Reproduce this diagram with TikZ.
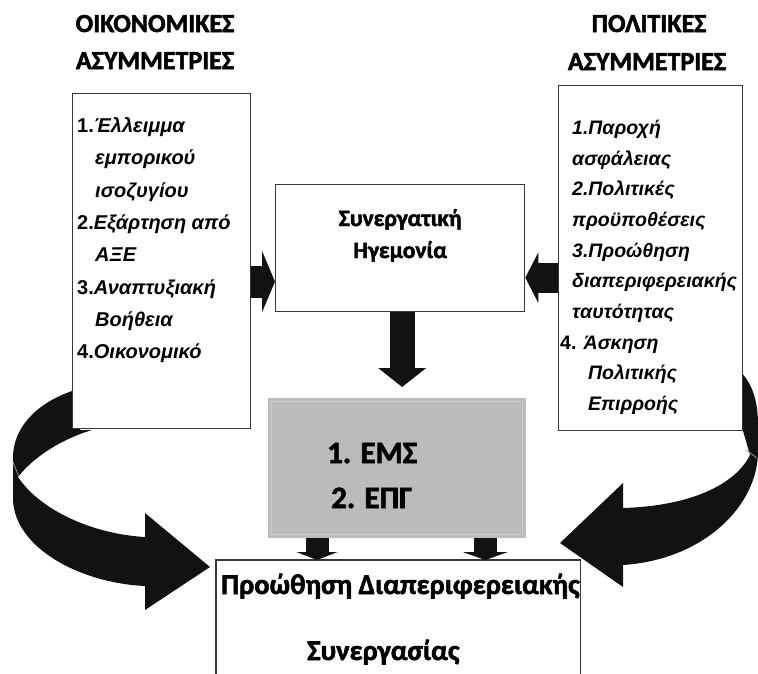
\documentclass[tikz,border=0pt]{standalone}
\usepackage{fontspec}
\setmainfont{Liberation Sans}
\newfontfamily\carlito{Carlito}[BoldFont={Carlito Bold}, BoldFeatures={FakeBold=2}]
\usepackage{tikz}
\usetikzlibrary{arrows.meta,positioning}
\definecolor{boxgray}{RGB}{187,187,187}
\definecolor{edgegray}{RGB}{55,55,55}
\definecolor{curlblack}{RGB}{18,18,18}

\begin{document}
\begin{tikzpicture}[x=1pt,y=-1pt,
    box/.style={draw=edgegray, line width=1.3pt, fill=white, inner sep=0pt, anchor=north west},
    head/.style={font=\carlito\bfseries\fontsize{26}{30}\selectfont, anchor=base, inner sep=0pt},
    item/.style={font=\bfseries\itshape\fontsize{20}{24}\selectfont, anchor=base west, inner sep=0pt},
    ritem/.style={item, font=\bfseries\itshape\fontsize{19.5}{24}\selectfont},
    hg/.style={font=\carlito\bfseries\fontsize{23.5}{27}\selectfont, anchor=base, inner sep=0pt},
    big/.style={font=\carlito\bfseries\fontsize{31}{36}\selectfont, anchor=base west, inner sep=0pt},
    mid/.style={font=\carlito\bfseries\fontsize{28.5}{33}\selectfont, anchor=base west, inner sep=0pt},
    curl/.style={fill=curlblack}]
  \useasboundingbox (0,0) rectangle (758,673);

  % curved arrows go first, the boxes sit on them
  \fill[curl] (80,385) -- (72,391) .. controls (40,402) and (13,425) .. (13,458) -- (13,500)
     .. controls (15,548) and (80,583) .. (145,586) -- (145,610) -- (210,567) -- (145,513)
     -- (145,537) .. controls (92,534) and (40,510) .. (18,477)
     .. controls (35,455) and (65,438) .. (92,430) -- (80,430) -- cycle;
  \draw[white!60!black, line width=0.8pt] (13,462) -- (19,477);
  \fill[curl] (735,373) -- (742,373) .. controls (752,385) and (758,400) .. (758,425) -- (758,455)
     .. controls (755,510) and (700,560) .. (623,565) -- (623,587) -- (560,543) -- (623,483)
     -- (623,508) .. controls (690,506) and (735,485) .. (750,455)
     .. controls (747,445) and (745,437) .. (742,428) -- (735,428) -- cycle;
  \draw[white!60!black, line width=0.8pt] (746,450) -- (757,458);

  % boxes
  \node[box, minimum width=178pt, minimum height=335pt] (econ) at (72,93) {};
  \node[box, minimum width=184pt, minimum height=345pt] (pol) at (558,85) {};
  \node[box, minimum width=249pt, minimum height=127pt] (hegem) at (275,184) {};
  \node[box, draw=none, fill=boxgray, minimum width=258pt, minimum height=140pt] (ems) at (267,397) {};
  \draw[boxgray!75!white, line width=0.6pt] ([shift={(4pt,-4pt)}]ems.north west) rectangle ([shift={(-4pt,4pt)}]ems.south east);
  \node[box, draw=none, fill=none, minimum width=363pt, minimum height=113pt] (prom) at (216,560) {};
  \draw[edgegray, line width=1.3pt] (prom.south west) -- (prom.north west) -- (prom.north east) -- (prom.south east);

  % headings
  \node[head] (econh1) at (155,32) {ΟΙΚΟΝΟΜΙΚΕΣ};
  \node[head] (econh2) at (155,69) {ΑΣΥΜΜΕΤΡΙΕΣ};
  \node[head] (polh1) at (649,32) {ΠΟΛΙΤΙΚΕΣ};
  \node[head] (polh2) at (647,70) {ΑΣΥΜΜΕΤΡΙΕΣ};

  % left list
  \foreach \yy/\xx/\txt [count=\i] in {132/77/{{\upshape 1.}Έλλειμμα}, 164/95/εμπορικού,
      197/95/ισοζυγίου, 229/77/{{\upshape 2.}Εξάρτηση από}, 261/95/ΑΞΕ,
      294/77/{{\upshape 3.}Αναπτυξιακή}, 326/95/Βοήθεια, 358/77/{{\upshape 4.}Οικονομικό}}
    \node[item] (e\i) at (\xx,\yy) {\txt};

  % right list
  \foreach \yy/\xx/\txt [count=\i] in {134/572/1.Παροχή, 165/572/ασφάλειας, 195/572/2.Πολιτικές,
      226/572/προϋποθέσεις, 257/572/3.Προώθηση, 287/572/διαπεριφερειακής,
      318/572/ταυτότητας, 349/560/{{\upshape 4.} Άσκηση}, 379/588/Πολιτικής, 410/588/Επιρροής}
    \node[ritem] (p\i) at (\xx,\yy) {\txt};

  \node[hg] (hg1) at (hegem.center |- 0,226) {Συνεργατική};
  \node[hg] (hg2) at (hegem.center |- 0,258) {Ηγεμονία};

  \node[big] (ems1) at (327,463) {1. ΕΜΣ};
  \node[big] (ems2) at (331,508) {2. ΕΠΓ};

  \node[mid] (pr1) at (221,594) {Προώθηση Διαπεριφερειακής};
  \node[mid] (pr2) at (307,660) {Συνεργασίας};

  % block arrows
  \coordinate (la) at ([yshift=-20.5pt]econ.east);
  \draw[curlblack, line width=32pt, -{Triangle[length=13pt, width=61pt]}] (la) -- (la -| hegem.west);
  \coordinate (ra) at ([yshift=-19.5pt]pol.west);
  \draw[curlblack, line width=30pt, -{Triangle[length=13pt, width=50pt]}] (ra) -- (ra -| hegem.east);
  \coordinate (da) at ([xshift=2pt]hegem.south);
  \path (da |- ems.north) coordinate (db);
  \draw[curlblack, line width=25pt, -{Triangle[length=19pt, width=47pt]}] (da) -- ([yshift=10pt]db);
  \coordinate (s1) at ([xshift=50pt]ems.south west);
  \coordinate (s2) at ([xshift=-41pt]ems.south east);
  \draw[curlblack, line width=23pt, -{Triangle[length=8pt, width=41pt]}] (s1) -- (s1 |- prom.north);
  \draw[curlblack, line width=23pt, -{Triangle[length=8pt, width=45pt]}] (s2) -- (s2 |- prom.north);
\end{tikzpicture}
\end{document}
